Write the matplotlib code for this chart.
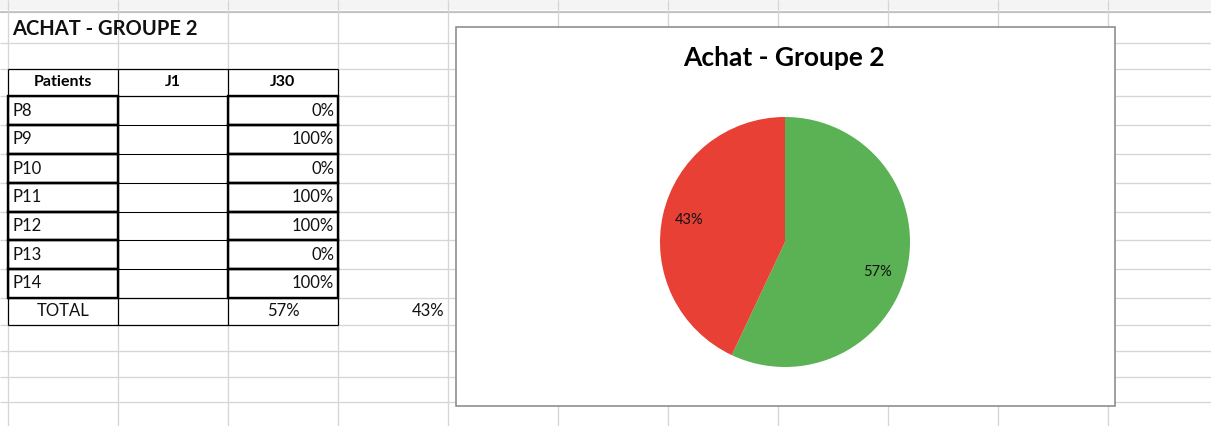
import matplotlib.pyplot as plt
from matplotlib.patches import Rectangle

plt.rcParams["font.family"] = ["Lato", "DejaVu Sans"]

# data
sheet_title = "ACHAT - GROUPE 2"
chart_title = "Achat - Groupe 2"
headers = ["Patients", "J1", "J30"]
patients = ["P8", "P9", "P10", "P11", "P12", "P13", "P14"]
j30 = [0, 100, 0, 100, 100, 0, 100]
total_j30 = 57
total_other = 43
pie_values = [57, 43]
pie_colors = ["#5bb254", "#e84034"]

# sheet layout in pixels
W, H = 1211, 426
col_x = [8, 118, 228, 338, 448, 558, 668, 778, 888, 998, 1108]
row_y = [12, 43, 69, 96, 125, 154, 183, 212, 240, 269, 298, 325, 351, 377, 402]
GRID = "#d6d6d6"


def px(v):
    return v * 0.72


def main():
    fig = plt.figure(figsize=(W / 100, H / 100), dpi=100)
    ax = fig.add_axes([0, 0, 1, 1])
    ax.set_xlim(0, W)
    ax.set_ylim(H, 0)
    ax.axis("off")

    # spreadsheet grid
    ax.add_patch(Rectangle((0, 0), W, 10, facecolor="#f4f4f4", edgecolor="none", zorder=0))
    ax.hlines(row_y, 0, W, color=GRID, lw=px(1.3), zorder=1)
    ax.hlines(row_y[0], 0, W, color="#c4c4c4", lw=px(2), zorder=1)
    ax.vlines(col_x, 0, H, color=GRID, lw=px(1.3), zorder=1)

    # sheet title
    ax.text(12, 29, sheet_title, fontsize=14.5, fontweight="bold", va="center", ha="left", color="#111111")

    # table
    x0, x1, x2, x3 = col_x[0], col_x[1], col_x[2], col_x[3]
    top, hdr_bot = row_y[2], row_y[3]
    rows = row_y[3:11]
    tot_top, tot_bot = row_y[10], row_y[11]

    # thin outline of whole table
    ax.hlines([top, hdr_bot, tot_top, tot_bot], x0, x3, color="black", lw=px(1.2), zorder=3)
    ax.vlines([x0, x1, x2, x3], top, tot_bot, color="black", lw=px(1.2), zorder=3)
    ax.hlines(rows, x1, x2, color="black", lw=px(1), zorder=3)

    # thick boxes on patient and J30 cells
    for i in range(len(patients)):
        ya, yb = rows[i], rows[i + 1]
        for xa, xb in [(x0, x1), (x2, x3)]:
            ax.add_patch(Rectangle((xa, ya), xb - xa, yb - ya, facecolor="none",
                                   edgecolor="black", lw=px(2.4), zorder=4))

    hdr_y = (top + hdr_bot) / 2
    for h, xa, xb in zip(headers, col_x[:3], col_x[1:4]):
        ax.text((xa + xb) / 2, hdr_y, h, fontsize=11.5, fontweight="bold", ha="center", va="center")

    cell_fs = 12
    for i, (p, v) in enumerate(zip(patients, j30)):
        yc = (rows[i] + rows[i + 1]) / 2
        ax.text(x0 + 4, yc, p, fontsize=cell_fs, ha="left", va="center", color="#111111")
        ax.text(x3 - 4, yc, f"{v}%", fontsize=cell_fs, ha="right", va="center", color="#111111")

    tot_y = (tot_top + tot_bot) / 2
    ax.text((x0 + x1) / 2, tot_y, "TOTAL", fontsize=cell_fs, ha="center", va="center", color="#111111")
    ax.text((x2 + x3) / 2, tot_y, f"{total_j30}%", fontsize=cell_fs, ha="center", va="center", color="#111111")
    ax.text(col_x[4] - 4, tot_y, f"{total_other}%", fontsize=cell_fs, ha="right", va="center", color="#111111")

    # chart box
    bx0, by0, bx1, by1 = 456, 27, 1115, 406
    ax.add_patch(Rectangle((bx0, by0), bx1 - bx0, by1 - by0, facecolor="white",
                           edgecolor="#8a8a8a", lw=px(1.6), zorder=5))
    ax.text(784, 58, chart_title, fontsize=19, fontweight="bold",
            ha="center", va="center", zorder=6)

    # pie
    cx, cy, r = 785, 242, 125
    pax = fig.add_axes([(cx - r) / W, 1 - (cy + r) / H, 2 * r / W, 2 * r / H])
    pax.set_zorder(7)
    wedges, texts, autotexts = pax.pie(
        pie_values, colors=pie_colors, startangle=90, counterclock=False,
        autopct="%1.0f%%", pctdistance=0.79,
        wedgeprops=dict(linewidth=0), textprops=dict(fontsize=10.5, color="#111111"))
    # excel "best fit" sits the green label a bit lower
    gx, gy = autotexts[0].get_position()
    autotexts[0].set_position((gx - 0.03, gy - 0.07))
    pax.set_xlim(-1, 1)
    pax.set_ylim(-1, 1)
    pax.axis("off")

    fig.savefig("out.png", dpi=100)


if __name__ == "__main__":
    main()
